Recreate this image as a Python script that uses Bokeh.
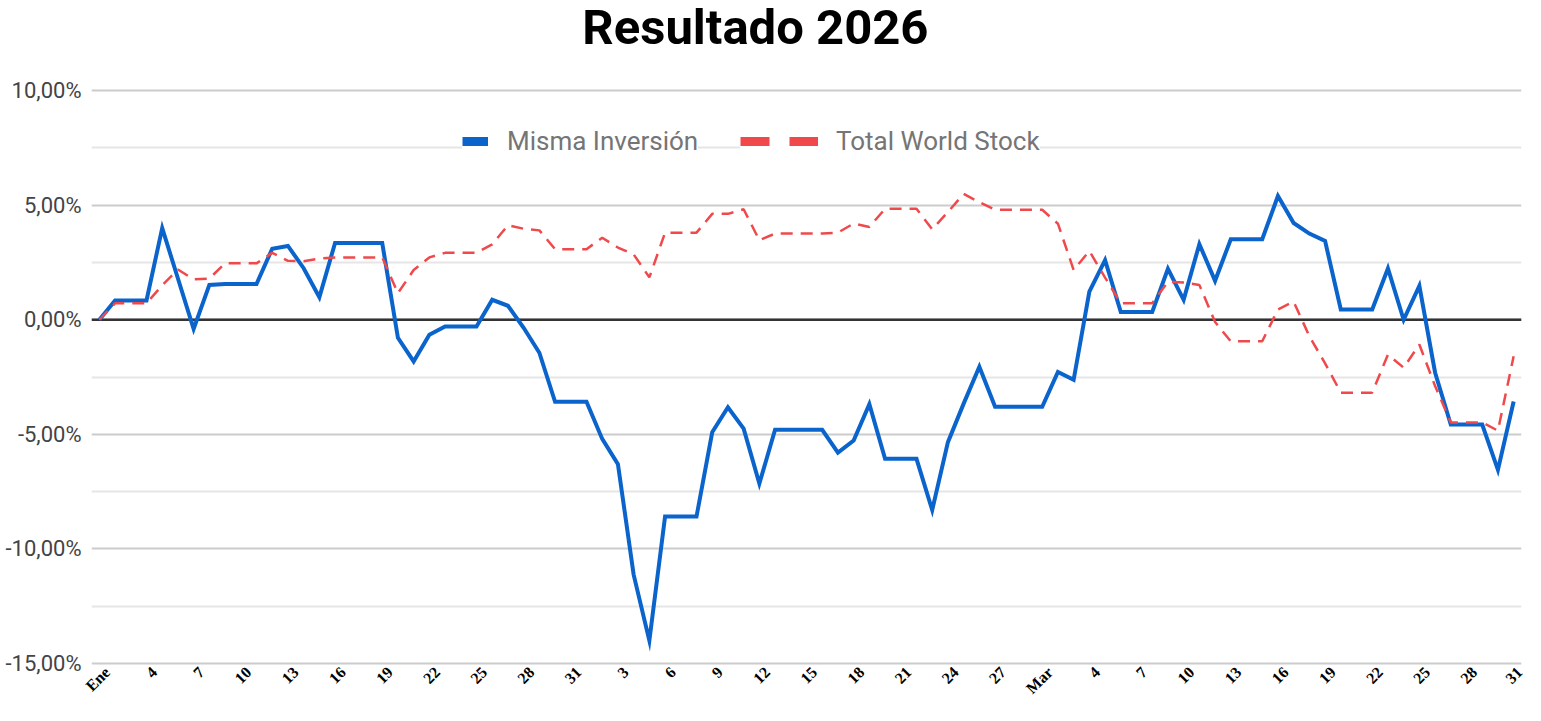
import math
from bokeh.plotting import figure
from bokeh.models import FixedTicker, Span, Legend, LegendItem, Label, Range1d
from bokeh.embed import file_html
from bokeh.resources import INLINE

# ---------------- data ----------------
titulo = "Resultado 2026"
serie_misma = "Misma Inversión"
serie_total = "Total World Stock"

# daily rows: 1 Ene ... 28 Feb, one extra row, 1 Mar ... 31 Mar (91 rows)
misma = [
    0.00, 0.84, 0.84, 0.84, 4.00, 1.80, -0.40, 1.52, 1.56, 1.56,
    1.56, 3.10, 3.22, 2.25, 0.98, 3.35, 3.35, 3.35, 3.35, -0.79,
    -1.82, -0.65, -0.29, -0.29, -0.29, 0.87, 0.61, -0.35, -1.44, -3.58,
    -3.58, -3.58, -5.20, -6.30, -11.12, -14.00, -8.59, -8.59, -8.59, -4.91,
    -3.82, -4.75, -7.15, -4.80, -4.80, -4.80, -4.80, -5.80, -5.27, -3.68,
    -6.07, -6.07, -6.07, -8.30, -5.34, -3.66, -2.05, -3.80, -3.80, -3.80,
    -3.80, -2.28, -2.62, 1.23, 2.60, 0.34, 0.34, 0.34, 2.22, 0.87,
    3.30, 1.70, 3.51, 3.51, 3.51, 5.40, 4.22, 3.76, 3.44, 0.45,
    0.45, 0.45, 2.24, 0.00, 1.48, -2.30, -4.57, -4.57, -4.57, -6.55,
    -3.57,
]
total = [
    0.00, 0.72, 0.72, 0.72, 1.50, 2.19, 1.76, 1.80, 2.46, 2.46,
    2.46, 2.92, 2.57, 2.55, 2.67, 2.72, 2.72, 2.72, 2.72, 1.16,
    2.17, 2.72, 2.92, 2.92, 2.92, 3.29, 4.12, 3.97, 3.90, 3.08,
    3.08, 3.08, 3.58, 3.15, 2.85, 1.85, 3.80, 3.80, 3.80, 4.62,
    4.62, 4.82, 3.47, 3.76, 3.76, 3.76, 3.76, 3.80, 4.20, 4.05,
    4.84, 4.84, 4.84, 3.95, 4.70, 5.49, 5.13, 4.80, 4.80, 4.80,
    4.80, 4.19, 2.17, 3.00, 1.84, 0.72, 0.72, 0.72, 1.66, 1.62,
    1.52, -0.10, -0.94, -0.94, -0.94, 0.45, 0.79, -0.72, -1.90, -3.18,
    -3.18, -3.18, -1.52, -2.09, -1.08, -2.89, -4.48, -4.48, -4.48, -4.84,
    -1.59,
]
etiquetas_x = ["Ene", "4", "7", "10", "13", "16", "19", "22", "25", "28", "31",
               "3", "6", "9", "12", "15", "18", "21", "24", "27",
               "Mar", "4", "7", "10", "13", "16", "19", "22", "25", "28", "31"]
paso_x = 3
ticks_y = [-15, -10, -5, 0, 5, 10]
etiquetas_y = ["-15,00%", "-10,00%", "-5,00%", "0,00%", "5,00%", "10,00%"]

# ---------------- styles / layout ----------------
AZUL = "#0a64cc"
ROJO = "#f0494c"
n = len(misma)
x = list(range(n))
NAN = float("nan")
Y_MIN, Y_MAX = -15.13, 13.93      # frame extends up to the top to host the title
TITLE_X, TITLE_Y = 41.75, 12.75   # title anchor (centre / baseline)

p = figure(width=1525, height=705, output_backend="svg", toolbar_location=None,
           x_range=Range1d(-0.5, n - 0.5), y_range=Range1d(Y_MIN, Y_MAX),
           min_border_left=91, min_border_right=4, min_border_top=0,
           min_border_bottom=36)
p.outline_line_color = None
p.background_fill_color = "white"
p.border_fill_color = "white"

# y axis and grid
p.yaxis.ticker = FixedTicker(ticks=ticks_y,
                             minor_ticks=[t + 2.5 for t in ticks_y[:-1]])
p.yaxis.major_label_overrides = dict(zip(ticks_y, etiquetas_y))
p.yaxis.axis_line_color = None
p.yaxis.major_tick_line_color = None
p.yaxis.minor_tick_line_color = None
p.yaxis.major_tick_out = 0
p.yaxis.minor_tick_out = 0
p.yaxis.major_tick_in = 0
p.yaxis.minor_tick_in = 0
p.yaxis.major_label_text_font = "Roboto"
p.yaxis.major_label_text_font_size = "22px"
p.yaxis.major_label_text_color = "#444444"
p.yaxis.major_label_standoff = 10
p.ygrid.grid_line_color = "#cccccc"
p.ygrid.grid_line_width = 2
p.ygrid.minor_grid_line_color = "#e6e6e6"
p.ygrid.minor_grid_line_width = 2
p.xgrid.visible = False

# x axis
tick_pos = [i + 0.5 for i in range(0, n, paso_x)]
p.xaxis.ticker = FixedTicker(ticks=tick_pos)
p.xaxis.major_label_overrides = dict(zip(tick_pos, etiquetas_x))
p.xaxis.axis_line_color = None
p.xaxis.major_tick_line_color = None
p.xaxis.minor_tick_line_color = None
p.xaxis.major_tick_out = 0
p.xaxis.minor_tick_out = 0
p.xaxis.major_tick_in = 0
p.xaxis.minor_tick_in = 0
p.xaxis.major_label_orientation = math.pi / 4
p.xaxis.major_label_text_font = "Liberation Serif"
p.xaxis.major_label_text_font_style = "bold"
p.xaxis.major_label_text_font_size = "16px"
p.xaxis.major_label_text_color = "#000000"
p.xaxis.major_label_standoff = 3

# zero line
p.add_layout(Span(location=0, dimension="width", line_color="#333333",
                  line_width=2.5, level="underlay"))

# series
p.line(x, misma, line_color=AZUL, line_width=4, line_join="miter")
p.line(x, total, line_color=ROJO, line_width=2.5, line_dash="12 8")

# legend swatches (thick), single NaN row so nothing is drawn in the plot
g_misma = p.line([NAN], [NAN], line_color=AZUL, line_width=9)
g_total = p.line([NAN], [NAN], line_color=ROJO, line_width=9, line_dash="29 20")

common = dict(orientation="horizontal", padding=0, margin=0, spacing=0,
              border_line_color=None, background_fill_color="white",
              background_fill_alpha=1.0, label_text_font="Roboto",
              label_text_font_size="26px", label_text_color="#757575",
              glyph_height=12)
leg_a = Legend(items=[LegendItem(label=serie_misma, renderers=[g_misma])],
               location=(371, 510), glyph_width=26, label_standoff=19, **common)
leg_b = Legend(items=[LegendItem(label=serie_total, renderers=[g_total])],
               location=(649, 510), glyph_width=78, label_standoff=18, **common)
p.add_layout(leg_a)
p.add_layout(leg_b)

# title
p.add_layout(Label(x=TITLE_X, y=TITLE_Y, text=titulo, text_align="center",
                   text_baseline="alphabetic", text_font="Roboto",
                   text_font_style="bold", text_font_size="49px",
                   text_color="#000000"))

open("out.html", "w").write(file_html(p, INLINE))
